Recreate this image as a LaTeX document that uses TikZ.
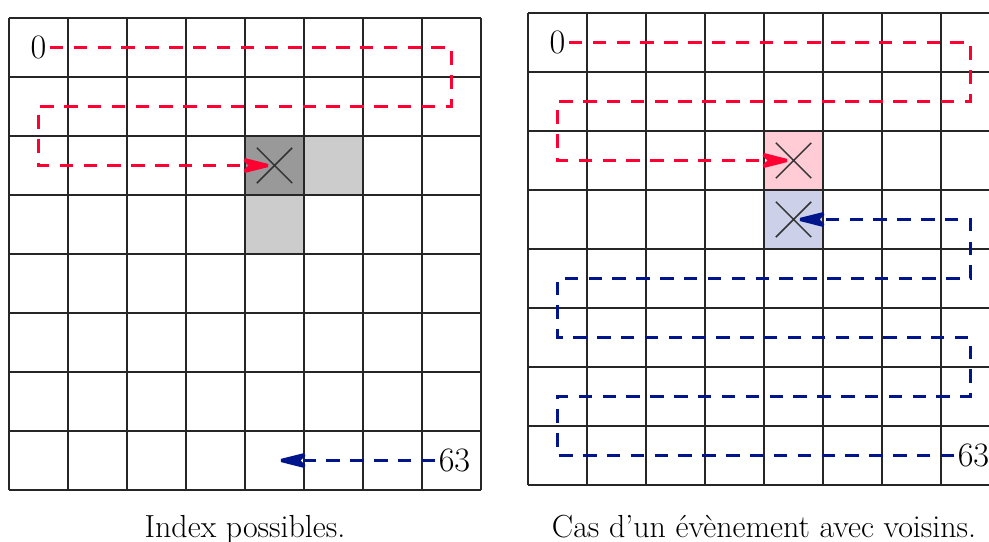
\documentclass[tikz,border=0pt]{standalone}
\usepackage{fontspec}
\usetikzlibrary{arrows.meta,positioning,calc}
\definecolor{pathred}{RGB}{255,0,51}
\definecolor{pathblue}{RGB}{0,20,140}
\newcommand{\crossmark}[1]{%
  \draw[crossline] ($(#1)+(-.3,-.3)$) -- ($(#1)+(.3,.3)$)
                   ($(#1)+(-.3,.3)$) -- ($(#1)+(.3,-.3)$);}
\tikzset{
  gridline/.style={line width=0.8pt, black!85},
  walk/.style={line width=1.6pt, dash pattern=on 6.5pt off 5pt, miter limit=4,
    -{Stealth[length=6mm, width=3mm, inset=1.6mm]}},
  redwalk/.style={walk, pathred},
  bluewalk/.style={walk, pathblue},
  crossline/.style={black!80, line width=0.7pt},
  idx/.style={font=\fontsize{16.5}{19}\selectfont, inner sep=1.5pt},
  caption/.style={font=\fontsize{15.4}{18}\selectfont, anchor=base}
}

\begin{document}
\begin{tikzpicture}
  \useasboundingbox (-0.153,0.305) rectangle (16.61,-8.881);
  % possible indices
  \begin{scope}
    \fill[black!40] (4,-2) rectangle (5,-3);
    \fill[black!20] (5,-2) rectangle (6,-3) (4,-3) rectangle (5,-4);
    \draw[gridline] (0,0) grid (8,-8);
    \node[idx] (zeroA) at (0.5,-0.5) {0};
    \node[idx] (lastA) at (7.55,-7.5) {63};
    \coordinate (hitA) at (4.5,-2.5);
    \coordinate (endA) at (4.5,-7.5);
    \crossmark{hitA}
    \draw[redwalk] (zeroA) -- (7.5,-0.5) -- (7.5,-1.5) -- (0.5,-1.5) -- (0.5,-2.5) -- (hitA);
    \draw[bluewalk] (lastA) -- (endA);
  \end{scope}
  \node[caption] (capA) at (4,-8.8) {Index possibles.};
  % event with neighbours
  \begin{scope}[shift={(8.797,0.085)}]
    \fill[pathred!20] (4,-2) rectangle (5,-3);
    \fill[pathblue!20] (4,-3) rectangle (5,-4);
    \draw[gridline] (0,0) grid (8,-8);
    \node[idx] (zeroB) at (0.5,-0.5) {0};
    \node[idx] (lastB) at (7.55,-7.5) {63};
    \coordinate (hitB) at (4.5,-2.5);
    \coordinate (nextB) at (4.5,-3.5);
    \crossmark{hitB}
    \crossmark{nextB}
    \draw[redwalk] (zeroB) -- (7.5,-0.5) -- (7.5,-1.5) -- (0.5,-1.5) -- (0.5,-2.5) -- (hitB);
    \draw[bluewalk] (lastB) -- (0.5,-7.5) -- (0.5,-6.5) -- (7.5,-6.5) -- (7.5,-5.5)
      -- (0.5,-5.5) -- (0.5,-4.5) -- (7.5,-4.5) -- (7.5,-3.5) -- (nextB);
  \end{scope}
  \node[caption] (capB) at (12.797,-8.8) {Cas d’un évènement avec voisins.};
\end{tikzpicture}
\end{document}
